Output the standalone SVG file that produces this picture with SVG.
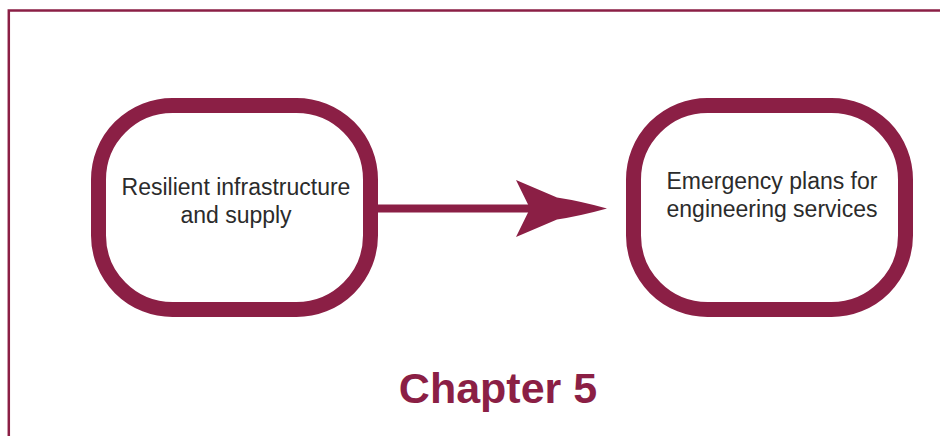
<svg xmlns="http://www.w3.org/2000/svg" width="940" height="436" viewBox="0 0 940 436">
  <style>
    .frame { fill: none; stroke: #8b1f45; stroke-width: 2.5; }
    .node { fill: #ffffff; stroke: #8b1f45; stroke-width: 15; }
    .label { font-family: "Liberation Sans", Arial, sans-serif; font-size: 23px; fill: #2b2b2b; text-anchor: middle; }
    .title { font-family: "Liberation Sans", Arial, sans-serif; font-size: 43px; font-weight: bold; fill: #8b1f45; text-anchor: middle; }
    .conn { stroke: #8b1f45; stroke-width: 8; fill: none; }
    .head { fill: #8b1f45; stroke: none; }
  </style>
  <rect width="940" height="436" fill="#ffffff"/>
  <path class="frame" d="M8.8,436 V10.5 H940"/>
  <g id="connectors">
    <line class="conn" x1="376" y1="208.5" x2="540" y2="208.5"/>
    <path class="head" d="M607,208.5 Q580,201 557,197.5 L516,180 L530,208.5 L516,237 L557,219.5 Q580,216 607,208.5 Z"/>
  </g>
  <g id="node-resilient">
    <rect class="node" x="98.5" y="105.5" width="272" height="204" rx="74" ry="74"/>
    <text class="label" x="236" y="195">Resilient infrastructure</text>
    <text class="label" x="236" y="223">and supply</text>
  </g>
  <g id="node-emergency">
    <rect class="node" x="633.5" y="105.5" width="272" height="204" rx="74" ry="74"/>
    <text class="label" x="772" y="189">Emergency plans for</text>
    <text class="label" x="772" y="217">engineering services</text>
  </g>
  <g id="title">
    <text class="title" x="498" y="403">Chapter 5</text>
  </g>
</svg>
